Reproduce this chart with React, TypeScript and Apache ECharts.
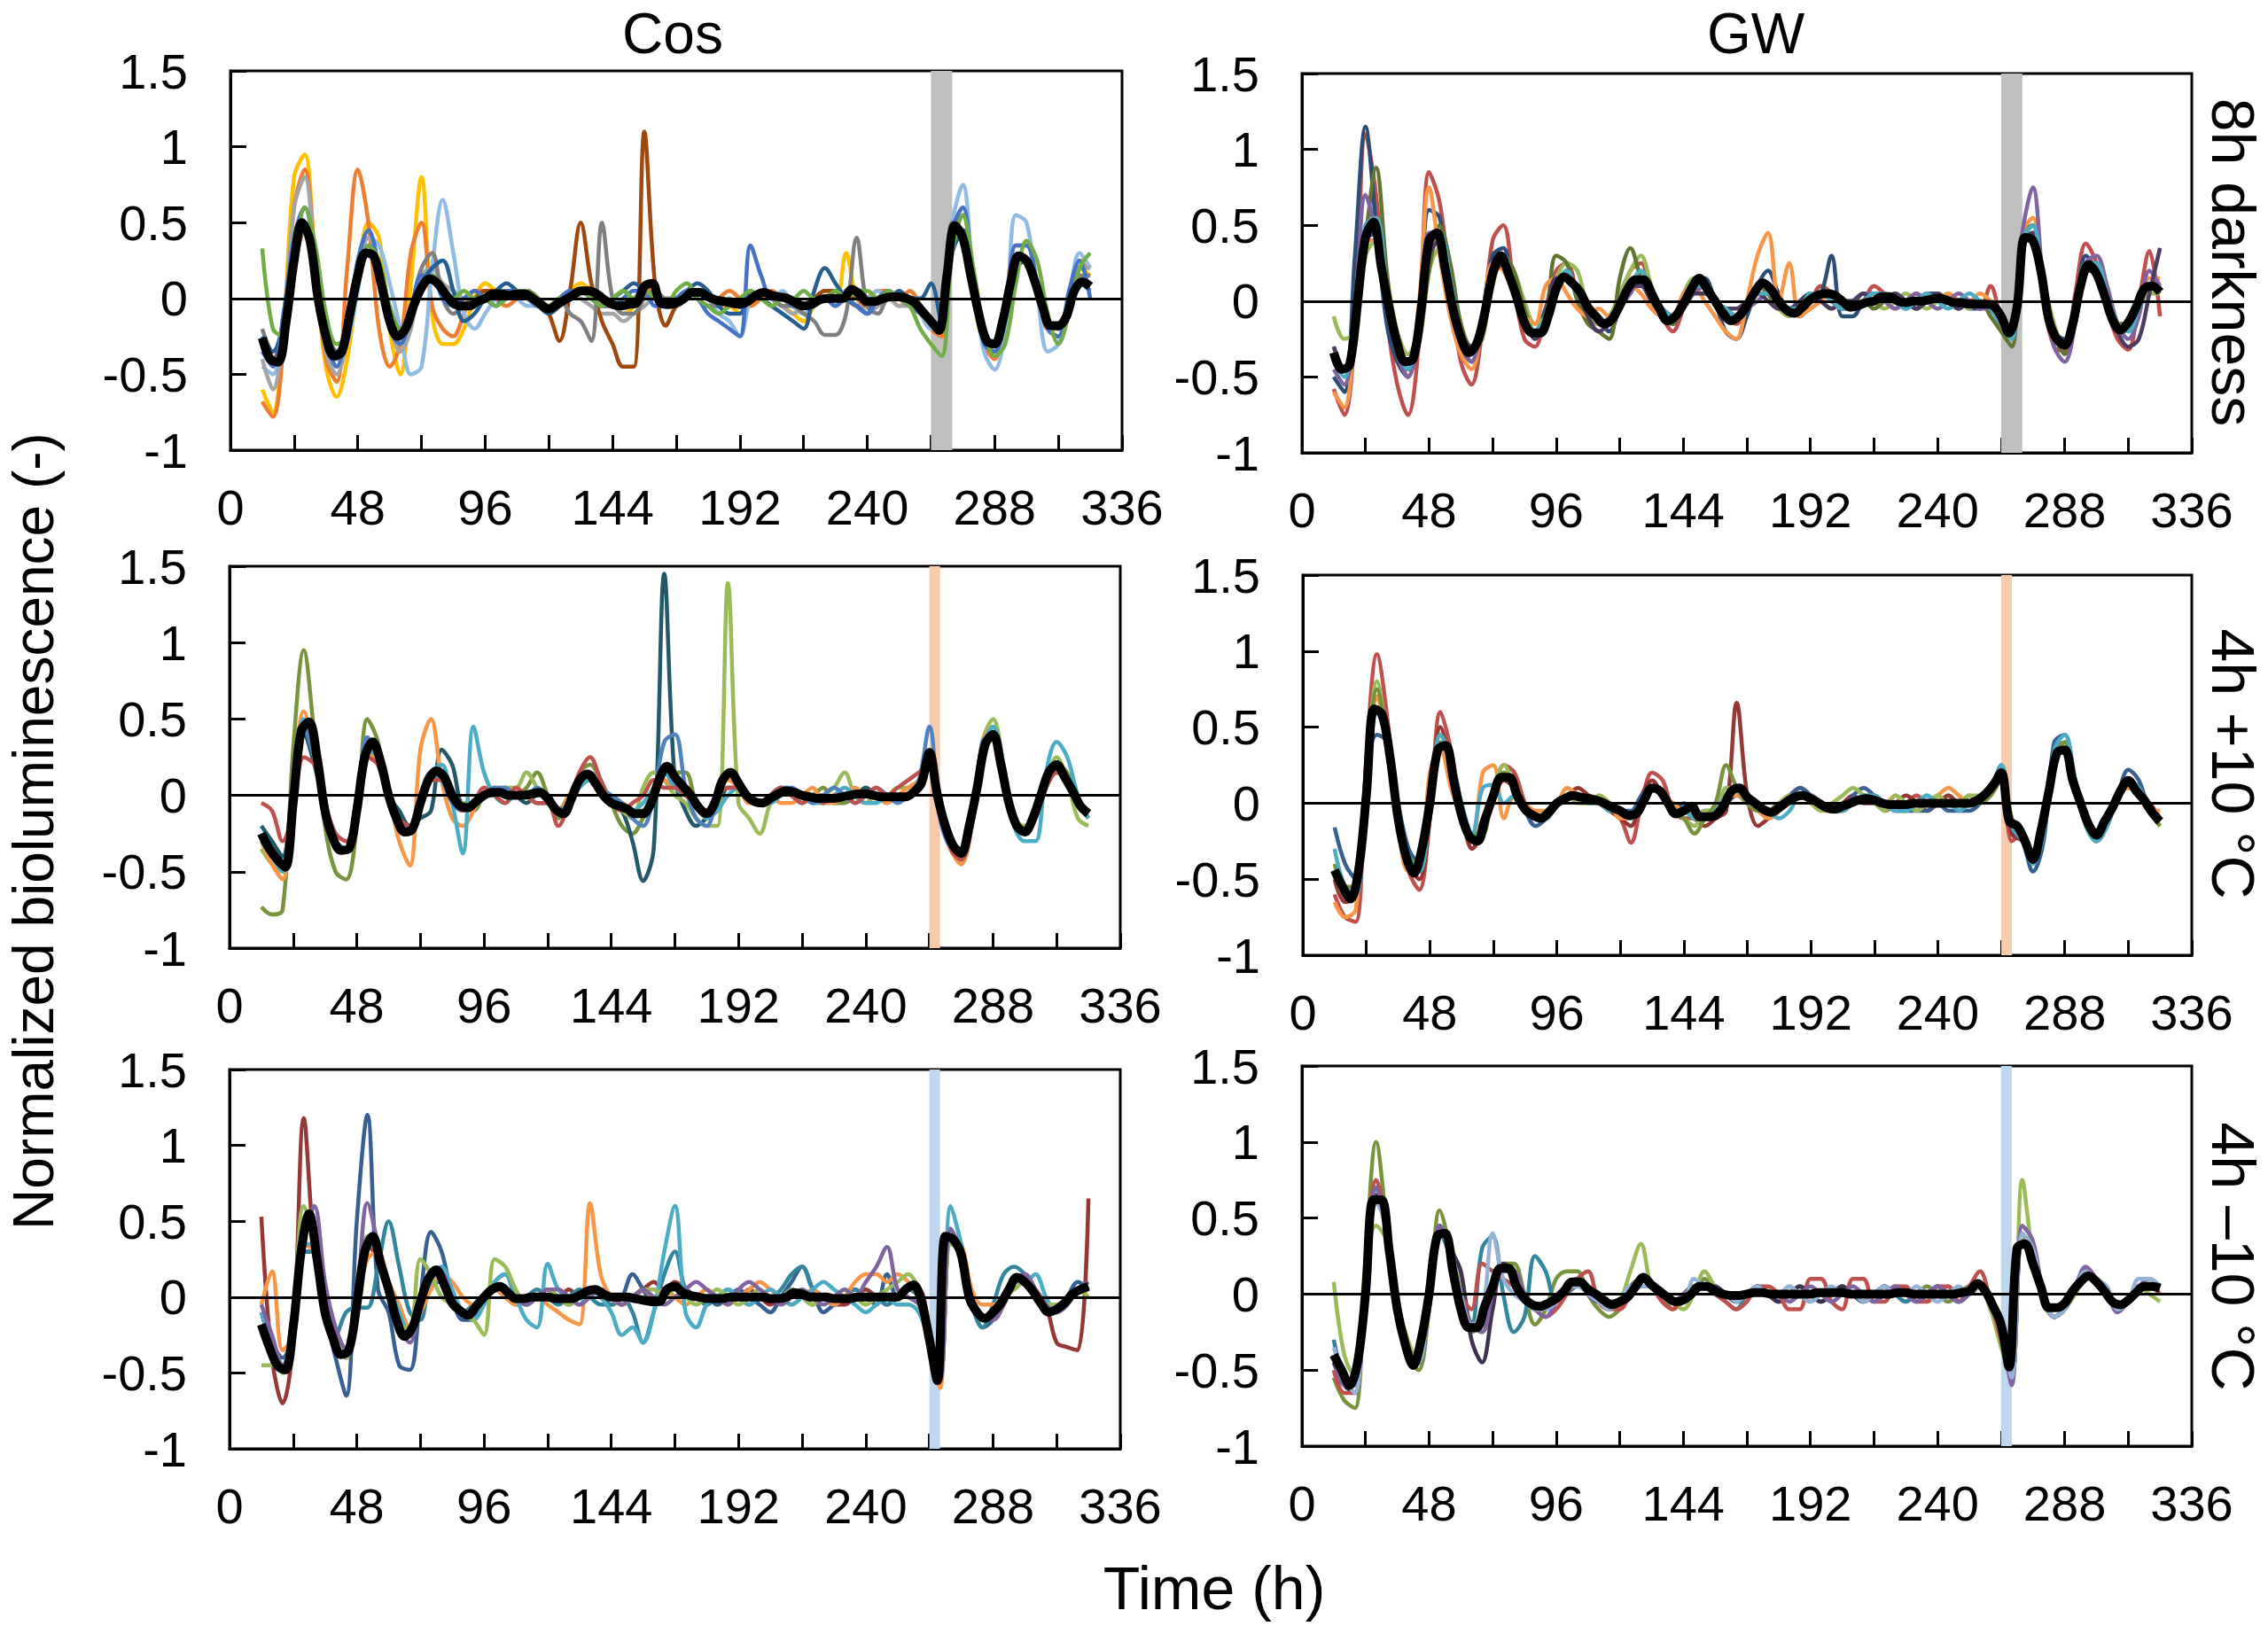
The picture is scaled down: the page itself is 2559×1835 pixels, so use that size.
import React, { useEffect, useRef } from "react";
import * as echarts from "echarts";

// ---------- axes / ticks ----------
const X_MIN = 0;
const X_MAX = 336;
const X_TICK = 24;
const X_LABEL_EVERY = 48;
const Y_MIN = -1;
const Y_MAX = 1.5;
const Y_TICK = 0.5;

// time grids (h): mean traces every 3 h, single traces every 4 h, from 12 h
const MEAN_START = 12;
const MEAN_STEP = 3;
const LINE_START = 12;
const LINE_STEP = 4;

// treatment windows (h)
const BAND_8H = [264, 272];
const BAND_4H = [264, 268];

const COL_TITLES = ["Cos", "GW"];
const ROW_TITLES = ["8h darkness", "4h +10 °C", "4h –10 °C"];
const Y_NAME = "Normalized bioluminescence (-)";
const X_NAME = "Time (h)";

// values below are hundredths of normalized bioluminescence
// ======== Cos, 8h darkness ========
const COS_8H_MEAN = [
  -26, -40, -42, -15, 25, 50, 38, 0,
  -25, -38, -35, -10, 15, 30, 28, 8,
  -15, -25, -20, -5, 7, 13, 10, 3,
  -3, -5, -5, -2, 0, 3, 3, 2,
  3, 3, 0, -4, -7, -4, -1, 2,
  5, 5, 3, -1, -4, -5, -4, -3,
  8, 10, -3, -4, -3, 0, 4, 4,
  1, -1, -2, -3, -4, -2, 2, 4,
  2, 1, 0, -3, -5, -4, -1, 0,
  0, 0, 6, 3, -2, -2, 0, 1,
  1, 0, -3, -9, -15, -21, 15, 48,
  40, 15, -10, -28, -30, -15, 10, 28,
  25, 12, -5, -18, -18, -12, 5, 11,
  8,
];
const COS_8H_LINES = [
  [ // yellow
    -60, -75, -20, 80, 95, 20,
    -45, -65, -40, 10, 50, 40,
    -20, -50, 10, 80, -10, -30,
    -30, -20, 0, 10, 5, 0,
    5, 0, -5, -10, -5, 5,
    10, 5, -5, -5, -10, -5,
    10, 0, -5, -5, 0, 5,
    0, -5, -5, -10, 0, 5,
    0, -5, -10, -15, -5, 0,
    -5, 30, 0, -5, 0, 0,
    -5, 0, -10, -20, -25, 40,
    45, 0, -30, -35, -10, 25,
    25, 5, -20, -25, 0, 20,
    15,
  ],
  [ // orange
    -68, -78, -30, 60, 85, 25,
    -40, -55, 20, 85, 50, -20,
    -45, -30, 30, 50, -5, -20,
    -25, -10, 5, 5, 0, -5,
    0, 5, 0, -5, 0, 5,
    5, 0, -5, -5, -5, 0,
    5, 5, -5, 0, 5, 0,
    -5, 0, 5, 0, -5, 0,
    5, 0, -5, -5, 0, 5,
    5, 0, -5, 0, 5, 5,
    0, 5, -5, -20, -25, 40,
    55, 10, -30, -40, -5, 35,
    35, 10, -20, -20, 0, 25,
    20,
  ],
  [ // light blue
    -45, -50, -10, 40, 60, 30,
    -20, -45, -30, 5, 40, 35,
    10, -20, -50, -45, 20, 65,
    30, -10, -20, -10, 0, 5,
    0, -5, -5, -10, -5, 0,
    5, 5, 0, -5, -5, 0,
    5, 0, -5, 0, 5, 5,
    0, -10, -15, -25, 0, 5,
    0, 5, -5, -10, -5, 0,
    0, 5, 0, 0, 5, 0,
    0, 0, -10, -20, -15, 50,
    75, 10, -35, -47, -20, 55,
    50, 5, -35, -30, 0, 30,
    20,
  ],
  [ // gray
    -40, -60, -20, 60, 80, 20,
    -35, -50, -25, 25, 40, 20,
    -15, -35, -20, 15, 20, 10,
    5, 0, 0, 5, 0, 0,
    5, 0, -5, -5, 0, 5,
    0, -5, -10, -10, -15, -10,
    -5, 0, 0, -5, 0, 5,
    0, 0, -5, -5, 0, 5,
    0, -5, -10, -5, 0, 0,
    -5, 0, 0, -10, -5, 0,
    -5, -5, -10, -15, -20, 40,
    45, 5, -25, -35, -15, 25,
    25, 10, -20, -25, 0, 20,
    20,
  ],
  [ // brown
    -30, -40, -20, 20, 45, 15,
    -20, -35, -20, 10, 30, 10,
    -15, -25, -10, 10, 15, 5,
    -5, -5, 0, 5, 5, 0,
    0, 5, 0, -10, -28, 5,
    50, 10, -15, -30, -45, -45,
    110, 10, -18, -5, 0, 5,
    0, 0, -5, -5, 0, 5,
    0, 0, -5, -5, 0, 5,
    5, 0, 0, -5, 0, 5,
    0, 0, -5, -15, -20, 40,
    45, 5, -25, -30, -10, 25,
    25, 10, -15, -20, -5, 10,
    10,
  ],
  [ // dark gray
    -20, -35, -20, 30, 45, 10,
    -25, -40, -20, 15, 30, 15,
    -10, -20, -5, 20, 30, 0,
    -10, -5, 0, 0, 5, 5,
    0, 0, -5, -5, 0, -10,
    -15, -28, 50, 0, -10, -10,
    0, 5, 0, 0, 5, 0,
    -5, -5, 0, -5, 0, 5,
    0, -5, -5, -10, -15, -24,
    -24, -10, 40, -5, -10, 0,
    0, 0, -5, -15, -20, 50,
    40, 0, -25, -30, -10, 25,
    25, 10, -15, -20, 0, 15,
    15,
  ],
  [ // dark blue
    -25, -35, -15, 30, 50, 20,
    -20, -35, -25, 10, 35, 20,
    -5, -20, -15, 10, 20, 25,
    5, -15, -10, 0, 5, 10,
    5, 0, -5, -10, -5, 0,
    5, 0, -5, 0, 5, 10,
    5, 0, -5, 0, 5, 10,
    5, -5, -10, -10, 5, 0,
    -5, -10, -15, -20, 5, 20,
    10, 0, -5, -10, 0, 0,
    5, 0, 0, 10, -15, 30,
    45, 0, -25, -30, -10, 20,
    25, 10, -15, -20, -5, 10,
    5,
  ],
  [ // blue
    -35, -45, -10, 40, 60, 25,
    -25, -45, -20, 25, 45, 20,
    -20, -30, -10, 15, 15, 0,
    -5, 0, 5, 0, -5, 5,
    5, 0, -5, -5, 0, 5,
    5, 0, -5, -5, 0, 5,
    5, -5, -5, 0, 5, 0,
    -10, -15, -20, -25, 35, 15,
    0, 0, -5, -5, 0, 0,
    -5, 0, -5, -10, 0, 5,
    0, -5, -10, -15, -20, 45,
    60, 10, -30, -35, -10, 35,
    35, 10, -20, -25, 5, 25,
    0,
  ],
  [ // green
    33, -20, -25, 20, 60, 35,
    -10, -30, -25, 10, 35, 25,
    -5, -20, -15, 10, 15, 5,
    0, 5, 0, 0, -5, 0,
    5, 5, 0, -5, 0, 0,
    5, 0, -5, 0, 5, 0,
    5, 0, -5, 5, 10, 0,
    -5, -10, -5, 0, 5, 0,
    -5, 0, 0, 5, 0, 0,
    5, 0, 5, 5, 0, 5,
    0, -5, -20, -30, -38, 30,
    55, 20, -20, -38, -30, 10,
    38, 25, -10, -30, -10, 20,
    30,
  ],
];
const COS_8H_COLORS = ["#FFC000", "#ED7D31", "#8FBBE5", "#A5A5A5", "#9E480E", "#7F7F7F", "#255E91", "#4472C4", "#70AD47"];

// ======== GW, 8h darkness ========
const GW_8H_MEAN = [
  -34, -45, -42, 0, 42, 52, 22, -5,
  -28, -40, -38, -5, 40, 45, 22, -5,
  -24, -34, -28, -8, 18, 30, 18, 3,
  -14, -21, -21, -10, 8, 16, 12, 6,
  -4, -10, -15, -12, -3, 8, 14, 14,
  5, -5, -13, -10, -2, 8, 15, 8,
  0, -8, -13, -10, -3, 6, 12, 8,
  0, -6, -8, -4, 1, 4, 5, 4,
  0, -4, -3, -1, 0, 3, 3, 0,
  -1, 0, 0, 1, 2, 1, -1, -1,
  -2, -2, -2, -3, -10, -21, -4, 42,
  40, 20, -12, -25, -29, -15, 10, 24,
  18, 4, -12, -19, -14, -4, 8, 10,
  6,
];
const GW_8H_LINES = [
  [ // red
    -58, -75, -20, 110, 70, -10,
    -55, -75, -30, 85, 65, 10,
    -40, -55, -20, 40, 50, 10,
    -25, -30, -5, 20, 25, 5,
    -10, -15, -15, 0, 20, 25,
    5, -10, -20, -5, 15, 15,
    0, -10, -15, -5, 10, 10,
    0, -5, -10, 0, 10, 5,
    -5, -5, 0, 10, 5, 0,
    -5, 0, 5, 5, 0, -5,
    0, -5, 10, -10, -20, 40,
    50, 0, -30, -33, 5, 38,
    25, -5, -25, -32, 0, 33,
    -10,
  ],
  [ // dark blue
    -50, -60, 30, 115, 50, -15,
    -40, -50, -15, 60, 55, 5,
    -30, -40, -10, 30, 35, 5,
    -15, -20, -5, 10, 20, 5,
    -5, -10, -20, -5, 10, 15,
    0, -10, -15, 0, 10, 15,
    0, -20, -25, -10, 10, 20,
    5, -5, -5, 0, 5, 30,
    -10, -10, 0, 5, 5, 0,
    0, -5, 5, 5, 0, 0,
    -5, -5, 0, -10, -20, 35,
    45, 10, -20, -25, -5, 30,
    20, 0, -20, -15, 0, 10,
    5,
  ],
  [ // light green
    -10, -25, -20, 30, 40, 15,
    -20, -35, -20, 20, 35, 20,
    -15, -30, -20, 10, 30, 20,
    0, -15, -10, 15, 25, 20,
    -5, -15, -10, 5, 20, 30,
    10, -5, -10, 5, 15, 10,
    0, -5, -10, 0, 10, 5,
    -5, -10, -5, 0, 5, 0,
    -5, 0, 5, 0, -5, 0,
    5, 0, -5, 0, 5, 0,
    -5, 0, -5, -15, -25, 40,
    50, 15, -15, -30, -15, 20,
    20, 5, -15, -20, -5, 5,
    5,
  ],
  [ // olive
    -30, -45, -30, 40, 88, 20,
    -30, -45, -30, 20, 50, 25,
    -15, -30, -25, 15, 30, 20,
    -5, -20, -10, 30, 25, 0,
    -15, -20, -25, 15, 35, 15,
    0, -10, -15, 0, 10, 10,
    0, -5, -10, 0, 10, 5,
    -5, -5, 0, 5, 0, -5,
    0, 0, 0, -5, 0, 5,
    0, -5, 0, 5, 0, -5,
    0, 0, -10, -20, -30, 45,
    50, 10, -20, -35, -15, 20,
    20, 5, -15, -15, -5, 10,
    5,
  ],
  [ // orange
    -60, -70, -20, 40, 40, 10,
    -30, -50, -5, 75, 30, -10,
    -35, -45, -15, 25, 20, 5,
    -10, -15, 10, 15, 5, -5,
    -10, -5, -10, 0, 10, 5,
    -5, -10, -10, 5, 10, 0,
    -10, -20, -25, 0, 30, 45,
    0, 25, -10, -5, 0, 5,
    0, -5, 0, 5, 0, -5,
    0, 5, 0, 0, 5, 0,
    0, 5, 0, -10, -20, 45,
    55, 10, -20, -30, -10, 25,
    25, 10, -15, -20, 0, 15,
    15,
  ],
  [ // purple
    -45, -55, -10, 70, 45, 0,
    -35, -50, -20, 45, 45, 10,
    -25, -40, -15, 25, 30, 10,
    -15, -20, -10, 10, 15, 5,
    -5, -10, -15, -5, 5, 15,
    5, -5, -10, -5, 5, 10,
    0, -5, -10, -5, 0, 5,
    0, -5, -5, 0, 5, 0,
    -5, 0, 5, 5, 0, -5,
    0, 5, 0, -5, 0, 5,
    0, -5, -5, -15, -20, 45,
    75, 10, -30, -40, -15, 25,
    30, 10, -15, -25, -10, 20,
    10,
  ],
  [ // dark purple
    -30, -45, -20, 40, 45, 10,
    -30, -45, -20, 30, 40, 15,
    -20, -30, -20, 15, 25, 10,
    -10, -25, -10, 15, 15, 5,
    -10, -20, -15, 0, 10, 10,
    0, -5, -10, 0, 5, 5,
    0, -5, -5, 0, 5, 0,
    -5, -5, 0, 5, 0, -5,
    0, 0, 5, 0, 0, 5,
    0, -5, 0, 5, 0, -5,
    0, 0, -5, -15, -20, 40,
    45, 5, -25, -30, -10, 20,
    20, 0, -20, -30, -25, 5,
    35,
  ],
  [ // aqua
    -40, -50, -10, 50, 55, 10,
    -30, -45, -20, 40, 45, 15,
    -20, -35, -20, 20, 30, 10,
    -10, -20, -10, 10, 20, 5,
    -5, -10, -15, -5, 10, 20,
    5, -5, -10, 0, 10, 10,
    0, -5, -10, 0, 5, 5,
    0, -5, -5, 5, 5, 0,
    -5, -5, 0, 5, 5, 0,
    -5, 0, 5, 0, -5, 0,
    5, 0, -5, -15, -25, 40,
    50, 5, -25, -30, -10, 25,
    25, 5, -15, -20, -5, 10,
    10,
  ],
];
const GW_8H_COLORS = ["#C0504D", "#2C4D75", "#9BBB59", "#5F7530", "#F79646", "#8064A2", "#4D3B62", "#4BACC6"];

// ======== Cos, 4h +10 °C ========
const COS_UP_MEAN = [
  -25, -35, -42, -47, -5, 42, 48, 25,
  -10, -28, -36, -35, -10, 25, 35, 22,
  0, -15, -24, -22, -5, 10, 16, 12,
  0, -7, -8, -4, 0, 2, 2, 0,
  0, 0, 1, 2, -2, -9, -12, -2,
  10, 14, 8, 0, -5, -7, -9, -12,
  -12, -5, 10, 19, 12, 6, 0, -8,
  -12, -5, 10, 15, 8, 0, -4, -5,
  -2, 1, 3, 2, 0, -1, -2, -2,
  -2, -1, 0, 1, 1, 0, -1, -1,
  -1, -1, 2, 8, 28, 0, -20, -33,
  -38, -20, 5, 33, 40, 20, -5, -20,
  -24, -15, 0, 15, 20, 12, 3, -7,
  -12,
];
const COS_UP_LINES = [
  [ // olive
    -73, -78, -75, 30, 95, 40,
    -20, -50, -55, -20, 50, 35,
    -5, -20, -25, -5, 10, 15,
    0, -10, -10, 0, 5, 0,
    0, 5, 15, 0, -15, -5,
    15, 20, 10, -5, -20, -25,
    -15, -5, 15, 15, 15, -5,
    -15, -5, 5, 5, 0, -5,
    -5, 5, 0, -5, 0, 5,
    -5, -5, 0, 5, 0, 0,
    0, 0, 5, 20, -5, -30,
    -45, -20, 30, 45, 15, -15,
    -25, -15, 5, 20, 15, -5,
    -15,
  ],
  [ // dark teal
    -20, -30, -40, 10, 40, 20,
    -10, -30, -35, 0, 35, 20,
    0, -10, -20, -15, -10, 30,
    20, -5, -5, 0, 0, 5,
    0, -5, 0, 0, -10, 0,
    10, 10, 5, -5, -10, -30,
    -56, -35, 145, 10, -10, -20,
    -15, -10, 5, 5, 0, -5,
    0, 5, 0, -5, 0, 0,
    -5, 0, 0, 5, 0, -5,
    0, 0, 10, 25, -10, -30,
    -35, -20, 30, 40, 15, -20,
    -25, -15, 5, 15, 10, -5,
    -10,
  ],
  [ // light green
    -35, -45, -50, 0, 45, 25,
    -10, -30, -35, -10, 30, 25,
    0, -20, -25, -5, 15, 10,
    0, -5, -5, 0, 5, 5,
    5, 15, 5, -5, -10, 0,
    10, 15, 5, -5, -10, -15,
    5, 15, 10, 0, -5, -15,
    -20, -20, 139, -5, -15, -25,
    -5, 5, 0, 0, -5, 0,
    5, 15, 0, -5, 0, 0,
    5, 5, 10, 20, -5, -30,
    -35, -15, 35, 50, 20, -15,
    -20, -10, 10, 25, 10, -15,
    -20,
  ],
  [ // orange
    -30, -45, -55, 10, 55, 25,
    -10, -30, -35, -5, 30, 20,
    0, -30, -46, 30, 50, 10,
    -15, -20, -10, 5, 5, 0,
    5, 0, -5, -5, -10, 0,
    10, 15, 5, -5, -5, -10,
    -10, 0, 10, 5, 0, -5,
    -10, 0, 10, 5, -5, -5,
    0, -5, -5, 0, 5, -5,
    -5, 0, 5, 0, 0, -5,
    0, 5, 10, 25, 0, -35,
    -45, -20, 35, 45, 15, -15,
    -25, -15, 5, 15, 10, -5,
    -10,
  ],
  [ // aqua
    -30, -40, -50, 5, 50, 25,
    -10, -30, -35, -5, 30, 25,
    5, -15, -25, 0, 15, 20,
    -5, -38, 45, 15, 0, -5,
    0, 0, -5, -5, -10, -5,
    5, 10, 5, 0, -5, -10,
    -5, 5, 15, 5, 0, -5,
    -15, -10, 0, 5, 0, -5,
    -5, 0, 5, 0, -5, -5,
    0, 5, 0, -5, -5, 0,
    0, 0, 5, 30, -10, -30,
    -40, -20, 30, 45, 20, -20,
    -30, -30, 15, 35, 25, 0,
    -15,
  ],
  [ // blue
    -25, -35, -45, 0, 45, 25,
    -10, -30, -35, -5, 38, 25,
    0, -15, -25, 0, 15, 10,
    -5, -10, -5, 0, 5, 5,
    0, 0, 5, 0, -10, -5,
    10, 15, 5, 0, -5, -15,
    -20, 0, 35, 40, 5, -15,
    -20, 0, 15, 10, 0, -5,
    0, 5, 5, 0, -5, 0,
    5, 0, -5, 0, 5, 0,
    -5, 0, 10, 45, -15, -35,
    -40, -20, 35, 40, 15, -20,
    -25, -15, 5, 20, 10, -5,
    -10,
  ],
  [ // red
    -5, -10, -30, -10, 25, 20,
    -5, -25, -30, -10, 25, 20,
    0, -15, -20, -5, 10, 10,
    0, -10, -5, 5, 0, -5,
    5, 0, -5, -5, -20, -5,
    15, 25, 10, -5, -10, -5,
    0, 10, 5, 5, 0, -5,
    -10, 0, 5, 5, 0, -5,
    0, 5, 0, -5, 0, -5,
    0, 0, -5, 0, 5, 0,
    5, 10, 15, 20, 0, -35,
    -42, -20, 30, 40, 15, -15,
    -25, -15, 5, 15, 10, -5,
    -10,
  ],
];
const COS_UP_COLORS = ["#77933C", "#215968", "#9BBB59", "#F79646", "#4BACC6", "#4F81BD", "#C0504D"];

// ======== GW, 4h +10 °C ========
const GW_UP_MEAN = [
  -44, -55, -63, -45, 5, 62, 58, 30,
  -10, -35, -46, -30, 0, 35, 38, 15,
  -8, -22, -25, -10, 5, 17, 17, 5,
  -4, -8, -10, -6, 0, 3, 5, 4,
  3, 2, 0, -3, -5, -8, -7, 2,
  10, 8, 0, -7, -5, -2, -9, -9,
  -8, -2, 8, 10, 4, 0, -4, -6,
  -3, 1, 4, 5, 3, 0, -3, -4,
  -2, 0, 2, 3, 2, 0, -1, -1,
  -1, 0, 0, 0, 0, 0, 0, 0,
  0, 2, 6, 12, 20, -12, -15, -25,
  -37, -18, 8, 33, 35, 15, 0, -14,
  -21, -12, -3, 8, 15, 8, 2, -6,
  -12,
];
const GW_UP_LINES = [
  [ // red
    -60, -75, -78, 30, 98, 55,
    -15, -45, -57, -10, 60, 35,
    -5, -30, -20, 5, 25, 20,
    0, -10, -10, 0, 5, 5,
    5, 0, -5, -10, -26, 0,
    20, 15, -5, -10, -10, -10,
    -10, 0, 10, 5, 0, -10,
    -5, 5, 10, 5, 0, -5,
    -5, 0, 5, 0, 0, -5,
    0, 5, 0, 0, 5, 0,
    5, 0, 10, 20, -25, -20,
    -38, -15, 35, 40, 15, -10,
    -25, -15, 5, 15, 10, 0,
    -10,
  ],
  [ // dark red
    -50, -65, -60, 10, 70, 45,
    -10, -40, -50, -10, 50, 25,
    -5, -30, -10, 5, 15, 10,
    0, -10, -5, 0, 5, 10,
    5, 0, -5, -10, -15, 5,
    15, 5, -5, -5, -10, -15,
    -10, -5, 66, 5, -15, -10,
    -5, 0, 5, 5, 0, -5,
    0, 5, 0, 0, -5, 0,
    5, 0, -5, 0, 5, 0,
    0, 5, 10, 20, -20, -25,
    -35, -15, 30, 35, 15, -10,
    -20, -10, 5, 15, 5, 0,
    -10,
  ],
  [ // dark blue
    -16, -40, -50, 20, 45, 40,
    0, -30, -40, -5, 40, 20,
    -5, -20, -15, 10, 20, 10,
    -5, -15, -10, 0, 5, 5,
    0, 0, -5, -5, -5, 5,
    10, 5, -5, 0, -10, -5,
    -5, 0, 5, 0, -5, -5,
    0, 5, 10, 5, 0, -5,
    -5, 5, 10, 5, 0, -5,
    -5, -5, -5, 0, -5, -5,
    -5, 0, 10, 25, -15, -25,
    -45, -25, 40, 45, 10, -15,
    -25, -15, 5, 22, 15, -5,
    -15,
  ],
  [ // orange
    -65, -75, -70, 20, 70, 40,
    -15, -45, -45, 20, 35, 10,
    -10, -25, 20, 25, -10, 5,
    0, -5, -5, 0, 10, 5,
    0, 5, 0, -10, -10, 0,
    10, 5, 0, -5, -5, -10,
    -5, 5, 5, 0, -5, -10,
    -5, 0, 5, 0, -5, -5,
    0, 0, 5, 0, 0, 5,
    0, 0, 0, 5, 10, 5,
    0, 5, 10, 15, -15, -20,
    -35, -10, 30, 35, 15, -10,
    -20, -10, 5, 10, 5, -5,
    -5,
  ],
  [ // green
    -45, -60, -55, 20, 80, 40,
    -10, -35, -45, -5, 45, 30,
    -5, -25, -20, 10, 25, 10,
    -5, -10, -5, 0, 5, 0,
    0, 5, 0, -5, -10, 0,
    10, 5, -5, -10, -15, -5,
    -5, 10, 10, 0, -5, -5,
    0, 5, 5, 0, -5, 0,
    5, 10, 5, 0, -5, 5,
    0, -5, 0, 5, 0, 0,
    5, 5, 10, 20, -10, -25,
    -35, -15, 30, 40, 15, -10,
    -20, -10, 5, 15, 10, -5,
    -15,
  ],
  [ // olive
    -40, -55, -55, 15, 75, 40,
    -5, -35, -40, -5, 40, 30,
    0, -20, -20, 10, 20, 10,
    -5, -10, -5, 0, 5, 5,
    0, 0, 0, -5, -10, 0,
    10, 5, -5, -10, -20, -10,
    0, 25, 10, 0, -5, -5,
    0, 0, 5, 5, 0, -5,
    0, 0, 5, 5, 0, -5,
    -5, 0, 5, 0, 0, 0,
    0, 0, 5, 15, -10, -25,
    -35, -15, 30, 40, 15, -15,
    -20, -10, 5, 15, 10, -5,
    -15,
  ],
  [ // aqua
    -30, -55, -60, 10, 60, 40,
    0, -35, -45, -5, 45, 30,
    0, -20, 10, 12, 0, 5,
    -5, -10, -10, 0, 5, 5,
    0, 0, -5, -5, -10, 0,
    10, 5, -5, -5, -10, -10,
    -5, 5, 10, 5, 0, -5,
    -10, -5, 5, 5, 0, -5,
    -5, 0, 5, 5, 0, -5,
    -5, 0, 5, 0, 0, -5,
    0, 5, 10, 25, -15, -25,
    -40, -20, 35, 45, 15, -15,
    -25, -15, 5, 15, 10, -5,
    -10,
  ],
];
const GW_UP_COLORS = ["#C0504D", "#953735", "#366092", "#F79646", "#9BBB59", "#76933C", "#4BACC6"];

// ======== Cos, 4h –10 °C ========
const COS_DOWN_MEAN = [
  -18, -33, -45, -48, -20, 30, 55, 25,
  -10, -27, -38, -35, -5, 30, 40, 22,
  5, -15, -26, -20, -3, 12, 18, 8,
  -4, -9, -12, -6, 0, 5, 7, 3,
  -1, -1, 0, 0, 0, -1, -1, -1,
  1, 4, 5, 2, 0, 0, 0, -1,
  -2, -3, -3, 5, 7, 3, 1, 0,
  -1, -1, -1, 0, 0, 0, 0, 0,
  -1, -1, 0, 3, 2, 0, 0, 0,
  -1, -1, -1, 0, 0, 0, 0, 0,
  0, 5, 8, -3, -28, -55, 40, 38,
  28, 0, -10, -14, -10, -4, 5, 13,
  10, 4, -4, -10, -8, -4, 2, 5,
  7,
];
const COS_DOWN_LINES = [
  [ // dark red
    53, -40, -70, -30, 118, 30,
    -10, -30, -40, -10, 35, 25,
    5, -15, -25, -5, 15, 15,
    0, -10, -10, 0, 5, 5,
    0, -5, 0, 5, 0, 5,
    0, 5, 5, 0, -5, 0,
    5, 10, 5, 10, 5, 0,
    0, -5, 0, 0, 5, 0,
    -5, 0, 5, 0, -5, 0,
    -5, -5, 0, 5, 0, -5,
    0, 5, 5, -20, -55, 40,
    30, 0, -15, -15, -5, 10,
    15, 5, -5, -30, -33, -35,
    65,
  ],
  [ // blue
    -10, -30, -40, -20, 30, 30,
    -10, -40, -65, 50, 120, 5,
    -10, -45, -48, 0, 43, 30,
    0, -15, -15, 0, 10, 15,
    0, -5, 0, 5, 0, -5,
    0, 5, 0, -5, 0, 15,
    5, -5, 0, 5, 5, 0,
    0, -5, 0, 5, 0, -5,
    -10, 0, 10, 20, 5, -10,
    -5, 0, 5, 0, -5, 15,
    0, 5, 0, -25, -55, 45,
    30, 0, -20, -15, 0, 10,
    10, 5, -5, -10, 0, 10,
    5,
  ],
  [ // dark teal
    -10, -30, -45, -10, 30, 30,
    -5, -25, -10, -7, -7, 20,
    50, 20, -10, -15, 10, 10,
    0, -10, -5, 0, 5, 0,
    -5, 0, 5, 0, -5, 0,
    5, 0, -5, -5, 0, -10,
    -30, -10, 15, 30, 5, 0,
    -5, 0, 5, 0, -5, 0,
    0, 5, 15, 20, 5, 0,
    -5, 0, 5, 0, 0, -5,
    0, 5, 0, -25, -50, 40,
    30, -5, -20, -5, 15, 20,
    15, 5, -10, -10, -5, 5,
    10,
  ],
  [ // orange
    -5, 17, -35, -25, 35, 30,
    0, -25, -40, -5, 25, 30,
    10, -5, -20, -10, 5, 15,
    10, 0, -5, 0, 5, 0,
    -5, 0, 0, -5, -10, -15,
    -18, 62, 15, 0, -5, 0,
    5, 0, 5, 0, -5, 0,
    5, 0, -5, 0, 5, 10,
    5, 0, -5, 0, 5, 0,
    -5, 0, 10, 15, 15, 10,
    15, 10, 0, -25, -60, 40,
    35, 5, -5, -5, 0, 10,
    10, 5, -5, -10, -5, 5,
    5,
  ],
  [ // aqua
    -10, -30, -45, -15, 35, 35,
    0, -25, -35, -5, 35, 30,
    10, -10, -25, -5, 10, 20,
    5, -10, -15, -5, 10, 15,
    0, -15, -20, 22, 5, 0,
    -5, 5, 0, -10, -25, -20,
    -30, -10, 30, 60, -10, -20,
    -5, 0, 5, 0, -5, 0,
    5, 0, -5, 0, 5, 10,
    5, 0, -5, -10, -5, 0,
    -5, -5, -10, -30, -55, 60,
    35, 0, -15, -10, 0, 10,
    10, 15, 0, -10, -5, 5,
    5,
  ],
  [ // light green
    -45, -45, -50, -15, 60, 40,
    0, -25, -40, 0, 40, 30,
    5, -20, -20, 25, 15, 0,
    -5, -10, -15, -25, 25, 20,
    5, -5, 0, 5, 0, -5,
    0, 5, 5, 0, -5, 0,
    5, 5, 0, 5, 0, -5,
    0, 5, 0, -5, 0, 5,
    0, 0, 5, 0, -5, 0,
    0, 5, 0, -5, 0, 5,
    10, 15, 5, -20, -55, 35,
    30, 0, -15, -10, 0, 5,
    10, 5, -5, -5, 0, 5,
    0,
  ],
  [ // purple
    -5, -25, -45, -20, 35, 60,
    10, -20, -35, 0, 62, 35,
    5, -20, -30, -5, 15, 15,
    0, -10, -10, 0, 5, 5,
    0, -5, 0, 5, 5, 0,
    -5, 0, 5, 0, -5, 0,
    5, 0, -5, 0, 5, 10,
    5, 0, -5, 5, 10, 5,
    0, -5, 0, 5, 0, -5,
    0, 5, 0, 10, 20, 33,
    5, 0, -5, -25, -55, 45,
    30, 0, -15, -15, -5, 10,
    15, 5, -5, -10, -5, 5,
    10,
  ],
];
const COS_DOWN_COLORS = ["#953735", "#376092", "#31859C", "#F79646", "#4BACC6", "#9BBB59", "#8064A2"];

// ======== GW, 4h –10 °C ========
const GW_DOWN_MEAN = [
  -40, -50, -60, -45, 0, 62, 62, 28,
  -10, -33, -47, -30, 0, 38, 40, 15,
  -10, -22, -22, -8, 5, 17, 17, 5,
  -3, -7, -8, -6, -3, 2, 8, 8,
  3, 0, -4, -7, -5, -2, 5, 11,
  6, 2, -2, -5, -4, 0, 5, 5,
  2, 0, -1, -1, 0, 1, 1, 0,
  0, 0, 0, 0, 0, 1, 1, 1,
  1, 0, 0, 0, 0, 0, 0, 1,
  1, 0, 0, 0, 0, 0, 0, 1,
  2, 7, 2, -8, -20, -48, 30, 33,
  20, 5, -9, -9, -6, 2, 8, 12,
  8, 2, -5, -7, -4, 1, 5, 5,
  4,
];
const GW_DOWN_LINES = [
  [ // olive
    -55, -70, -75, 20, 100, 45,
    -15, -40, -50, -10, 55, 30,
    -5, -25, -20, 5, 20, 20,
    0, -20, -10, 10, 15, 15,
    0, -10, -15, -10, 0, 10,
    5, 0, -10, -5, 0, 10,
    5, 0, -5, 0, 5, 0,
    -5, 0, 5, 0, -5, 0,
    5, 0, -5, 0, 5, 0,
    -5, 0, 5, 0, -5, 0,
    5, 5, -10, -30, -55, 40,
    25, 0, -15, -10, 5, 15,
    10, 0, -10, -5, 5, 5,
    0,
  ],
  [ // light green
    8, -40, -55, 20, 45, 35,
    -5, -30, -45, -10, 45, 35,
    5, -20, -25, -5, 20, 10,
    -5, -10, -10, -5, 5, 10,
    5, -5, -10, -5, 15, 33,
    5, 0, -5, -10, 0, 15,
    5, 0, -5, 0, 5, 0,
    0, 5, 0, -5, 0, 0,
    5, 0, 0, -5, 0, 5,
    0, 0, -5, 0, 5, 0,
    0, 5, -10, -35, -55, 75,
    25, -5, -15, -10, 0, 10,
    10, 0, -10, -5, 5, 0,
    -5,
  ],
  [ // dark teal
    -30, -55, -60, 0, 70, 40,
    -10, -35, -45, -5, 40, 25,
    -5, -20, 30, 38, 0, -25,
    -15, 25, 15, -5, 0, 5,
    5, 0, -5, -5, 0, 5,
    5, 0, -5, -5, 0, 5,
    0, -5, -10, 0, 5, 0,
    -5, 0, 5, 0, -5, 0,
    5, 0, -5, 0, 5, 0,
    -5, 0, 0, 5, 0, -5,
    0, 5, -5, -25, -55, 35,
    25, 0, -15, -10, 5, 15,
    10, 0, -10, -5, 5, 5,
    5,
  ],
  [ // dark purple
    -45, -60, -65, 10, 65, 40,
    -10, -40, -45, -5, 45, 30,
    15, -30, -45, -10, 20, 15,
    0, -10, -10, -5, 5, 10,
    0, -5, -5, -5, 5, 10,
    5, 0, -5, -5, 0, 5,
    5, 0, -5, 0, 5, 0,
    -5, 0, 5, 0, -5, 0,
    5, 0, -5, 0, 5, 0,
    0, -5, 0, 5, 0, -5,
    0, 5, -5, -25, -55, 35,
    30, 0, -15, -10, 5, 15,
    10, 0, -10, -5, 5, 5,
    5,
  ],
  [ // red
    -50, -65, -65, 15, 75, 45,
    -5, -35, -45, -5, 40, 30,
    0, -10, 20, 15, 10, 5,
    -5, -10, -15, -10, 0, 10,
    15, -5, -10, -10, 0, 10,
    5, -5, -10, 0, 5, 5,
    0, -5, -10, -5, 5, 5,
    0, -10, -10, 10, 10, -5,
    -10, 10, 10, -5, -5, 5,
    5, -5, -5, 5, 5, -5,
    5, 15, -5, -30, -55, 35,
    25, 0, -15, -10, 5, 15,
    10, 0, -10, -5, 5, 5,
    0,
  ],
  [ // purple
    -40, -60, -60, 10, 70, 40,
    -5, -35, -45, 0, 45, 30,
    0, -20, -25, 0, 15, 15,
    0, -10, -15, -5, 5, 10,
    0, -5, -5, -5, 5, 10,
    5, 0, -5, 0, 5, 5,
    0, 0, -5, 0, 5, 0,
    0, -5, 0, 5, 0, -5,
    0, 5, 0, -5, 0, 5,
    0, -5, 0, 5, 0, -5,
    0, 5, -5, -25, -60, 45,
    35, 0, -15, -10, 5, 18,
    10, 0, -12, -5, 5, 10,
    5,
  ],
  [ // light blue
    -35, -55, -65, 5, 60, 45,
    -5, -35, -45, -5, 40, 30,
    0, -20, -15, 40, 10, 0,
    -5, -10, -10, -5, 5, 5,
    0, -5, -10, -5, 5, 5,
    5, 0, -5, -5, 10, 5,
    0, 0, -5, 0, 5, 0,
    0, 5, 0, -5, 0, 5,
    0, 0, -5, 0, 5, 0,
    0, 5, 0, -5, 0, 5,
    0, 5, -5, -25, -55, 40,
    30, 0, -15, -10, 5, 15,
    10, 5, -10, -5, 10, 10,
    5,
  ],
];
const GW_DOWN_COLORS = ["#77933C", "#9BBB59", "#31859C", "#403151", "#C0504D", "#8064A2", "#95B3D7"];

// ---------- layout (pixels) ----------
const FONT = '"Liberation Sans", Arial, Helvetica, sans-serif';
const PANELS = [
  { box: [260, 80, 1006, 428], mean: COS_8H_MEAN, lines: COS_8H_LINES, colors: COS_8H_COLORS, band: BAND_8H, bandColor: "#BFBFBF" },
  { box: [1469, 83, 1004, 428], mean: GW_8H_MEAN, lines: GW_8H_LINES, colors: GW_8H_COLORS, band: BAND_8H, bandColor: "#BFBFBF" },
  { box: [259, 639, 1005, 431], mean: COS_UP_MEAN, lines: COS_UP_LINES, colors: COS_UP_COLORS, band: BAND_4H, bandColor: "#F8CBAD" },
  { box: [1470, 649, 1003, 429], mean: GW_UP_MEAN, lines: GW_UP_LINES, colors: GW_UP_COLORS, band: BAND_4H, bandColor: "#F8CBAD" },
  { box: [259, 1207, 1005, 428], mean: COS_DOWN_MEAN, lines: COS_DOWN_LINES, colors: COS_DOWN_COLORS, band: BAND_4H, bandColor: "#BDD7EE" },
  { box: [1469, 1203, 1004, 429], mean: GW_DOWN_MEAN, lines: GW_DOWN_LINES, colors: GW_DOWN_COLORS, band: BAND_4H, bandColor: "#BDD7EE" },
];

function toPairs(vals: number[], start: number, step: number) {
  return vals.map((v, i) => [start + step * i, v / 100]);
}

function buildOption() {
  const grid: any[] = [];
  const xAxis: any[] = [];
  const yAxis: any[] = [];
  const series: any[] = [];

  PANELS.forEach((p, i) => {
    const [left, top, width, height] = p.box;
    grid.push({ left, top, width, height, show: true, borderColor: "#000", borderWidth: 3, backgroundColor: "transparent" });
    xAxis.push({
      type: "value", gridIndex: i, min: X_MIN, max: X_MAX, interval: X_TICK,
      axisLine: { show: true, onZero: false, lineStyle: { color: "#000", width: 3 } },
      axisTick: { show: true, inside: true, length: 17, lineStyle: { color: "#000", width: 3 } },
      axisLabel: {
        color: "#000", fontSize: 56, fontFamily: FONT, margin: 36,
        formatter: (v: number) => (v % X_LABEL_EVERY === 0 ? String(v) : ""),
      },
      splitLine: { show: false },
    });
    yAxis.push({
      type: "value", gridIndex: i, min: Y_MIN, max: Y_MAX, interval: Y_TICK,
      axisLine: { show: true, onZero: false, lineStyle: { color: "#000", width: 3 } },
      axisTick: { show: true, inside: true, length: 18, lineStyle: { color: "#000", width: 3 } },
      axisLabel: { color: "#000", fontSize: 56, fontFamily: FONT, margin: 48 },
      splitLine: { show: false },
    });

    p.lines.forEach((vals, k) => {
      const s: any = {
        type: "line", xAxisIndex: i, yAxisIndex: i,
        data: toPairs(vals, LINE_START, LINE_STEP),
        symbol: "none", showSymbol: false, smooth: 0.35, silent: true,
        lineStyle: { width: 4.5, color: p.colors[k % p.colors.length] },
        itemStyle: { color: p.colors[k % p.colors.length] },
        z: k === 0 ? 1 : 2,
      };
      if (k === 0) {
        s.markArea = {
          silent: true,
          itemStyle: { color: p.bandColor, opacity: 1 },
          data: [[{ xAxis: p.band[0] }, { xAxis: p.band[1] }]],
        };
        s.markLine = {
          silent: true, symbol: ["none", "none"],
          label: { show: false },
          lineStyle: { color: "#000", width: 3, type: "solid" },
          data: [{ yAxis: 0 }],
        };
      }
      series.push(s);
    });

    series.push({
      type: "line", xAxisIndex: i, yAxisIndex: i,
      data: toPairs(p.mean, MEAN_START, MEAN_STEP),
      symbol: "none", showSymbol: false, smooth: 0.35, silent: true,
      lineStyle: { width: 10, color: "#000" },
      itemStyle: { color: "#000" },
      z: 5,
    });
  });

  const txt = (text: string, x: number, y: number, fontSize: number, rotation = 0) => ({
    type: "text", x, y, rotation, silent: true,
    style: { text, fontSize, fontFamily: FONT, fill: "#000", align: "center", verticalAlign: "middle" },
  });

  const graphic = [
    txt(COL_TITLES[0], 759, 38, 64),
    txt(COL_TITLES[1], 1981, 38, 64),
    txt(ROW_TITLES[0], 2520, 296, 68, -Math.PI / 2),
    txt(ROW_TITLES[1], 2520, 862, 68, -Math.PI / 2),
    txt(ROW_TITLES[2], 2520, 1418, 68, -Math.PI / 2),
    txt(Y_NAME, 38, 938, 64, Math.PI / 2),
    txt(X_NAME, 1370, 1792, 68),
  ];

  return { animation: false, backgroundColor: "#fff", grid, xAxis, yAxis, series, graphic };
}

export default function App() {
  const ref = useRef<HTMLDivElement>(null);
  useEffect(() => {
    document.body.style.margin = "0";
    if (!ref.current) return;
    const chart = echarts.init(ref.current, null, { renderer: "svg", width: 2559, height: 1835 });
    chart.setOption(buildOption());
    return () => chart.dispose();
  }, []);
  return (
    <div
      ref={ref}
      style={{ position: "absolute", left: 0, top: 0, width: 2559, height: 1835, background: "#fff" }}
    />
  );
}
